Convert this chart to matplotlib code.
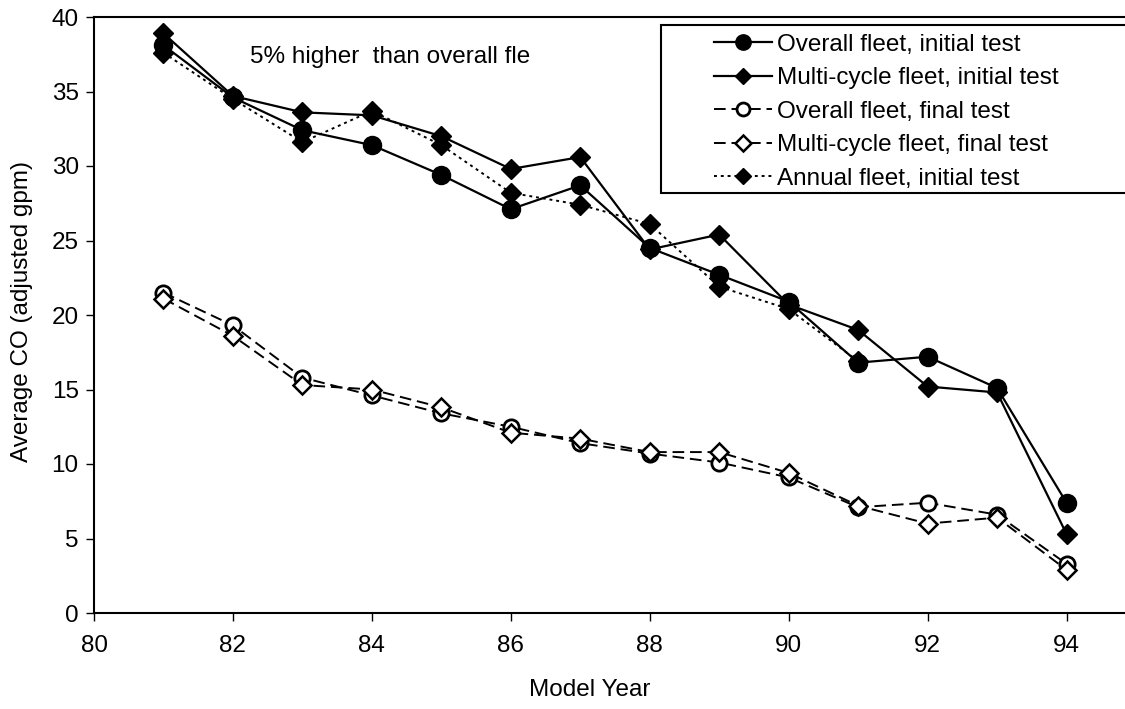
import numpy as np
import matplotlib
matplotlib.use("Agg")
import matplotlib.pyplot as plt
from matplotlib.patches import Rectangle

plt.rcParams['font.family'] = ['Liberation Sans', 'DejaVu Sans']

# model years
years = [81, 82, 83, 84, 85, 86, 87, 88, 89, 90, 91, 92, 93, 94]
annual_years = [81, 82, 83, 84, 85, 86, 87, 88, 89, 90, 91]

# average CO values
overall_initial = [38.1, 34.6, 32.4, 31.4, 29.4, 27.1, 28.7, 24.5, 22.7, 20.9, 16.8, 17.2, 15.1, 7.4]
multi_initial = [38.9, 34.7, 33.6, 33.4, 32.0, 29.8, 30.6, 24.4, 25.4, 20.7, 19.0, 15.2, 14.8, 5.3]
overall_final = [21.5, 19.3, 15.8, 14.6, 13.4, 12.5, 11.4, 10.7, 10.1, 9.1, 7.1, 7.4, 6.6, 3.3]
multi_final = [21.1, 18.6, 15.3, 15.0, 13.8, 12.1, 11.7, 10.8, 10.8, 9.4, 7.2, 6.0, 6.4, 2.9]
annual_initial = [37.6, 34.5, 31.6, 33.7, 31.4, 28.2, 27.4, 26.1, 21.9, 20.4, 16.9]

labels = ["Overall fleet, initial test", "Multi-cycle fleet, initial test",
          "Overall fleet, final test", "Multi-cycle fleet, final test",
          "Annual fleet, initial test"]

fs = 17.5
fig = plt.figure(figsize=(11.25, 7.09), dpi=100)
ax = fig.add_axes([94/1125, 1-613/709, (1136-94)/1125, (613-17)/709])

dash = (0, (6, 3))
dot = (0, (1.5, 2))
h1, = ax.plot(years, overall_initial, color='black', lw=1.6, marker='o', ms=13,
              mfc='black', mec='black', zorder=5)
h2, = ax.plot(years, multi_initial, color='black', lw=1.6, marker='D', ms=10,
              mfc='black', mec='black', zorder=5)
h3, = ax.plot(years, overall_final, color='black', lw=1.4, ls=dash, marker='o', ms=11,
              mfc='white', mec='black', mew=2, zorder=4)
h4, = ax.plot(years, multi_final, color='black', lw=1.4, ls=dash, marker='D', ms=9,
              mfc='white', mec='black', mew=1.8, zorder=4)
h5, = ax.plot(annual_years, annual_initial, color='black', lw=1.4, ls=dot, marker='D', ms=10,
              mfc='black', mec='black', zorder=3)

ax.set_xlim(80, 95)
ax.set_ylim(0, 40)
ax.set_xticks(np.arange(80, 95, 2))
ax.set_yticks(np.arange(0, 41, 5))
ax.tick_params(direction='out', length=6, width=1, labelsize=fs, colors='black')
ax.tick_params(axis='x', pad=10)
ax.tick_params(axis='y', pad=5)
for side in ['left', 'bottom', 'top', 'right']:
    ax.spines[side].set_linewidth(1.5)
    ax.spines[side].set_color('black')

fig.text(590/1125, 1-690/709, "Model Year", ha='center', va='center', fontsize=fs)
fig.text(22/1125, 1-312/709, "Average CO (adjusted gpm)", ha='center', va='center',
         rotation=90, fontsize=fs)
fig.text(250/1125, 1-57/709, "5% higher  than overall fle", ha='left', va='center', fontsize=fs)

# legend box
fig.patches.append(Rectangle((661/1125, 1-193/709), 500/1125, 168/709,
                             transform=fig.transFigure, fill=True, facecolor='white',
                             edgecolor='black', lw=1.5, zorder=6))
leg = fig.legend([h1, h2, h3, h4, h5], labels, loc='upper left',
                 bbox_to_anchor=(709/1125, 1-29/709), frameon=False, fontsize=fs,
                 handlelength=2.4, handletextpad=0.2, labelspacing=0.47,
                 borderpad=0.2, borderaxespad=0, markerscale=0.85)
leg.set_zorder(7)

fig.savefig("out.png", dpi=100)
